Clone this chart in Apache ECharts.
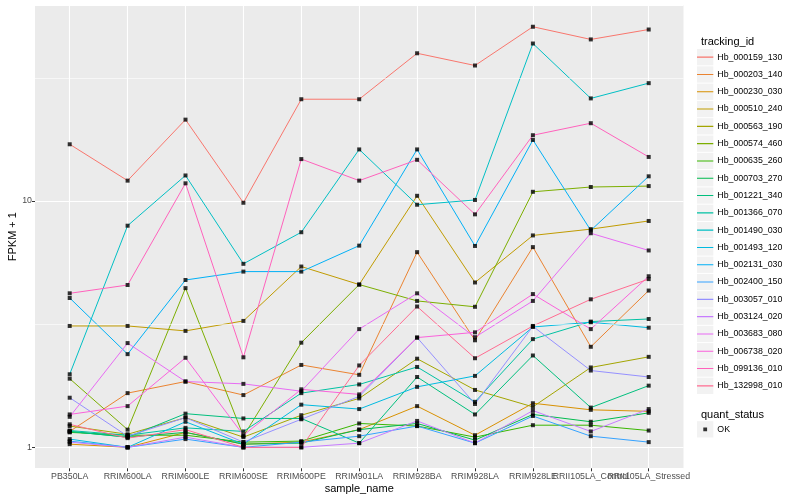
<!DOCTYPE html>
<html><head><meta charset="utf-8">
<script src="https://cdn.jsdelivr.net/npm/echarts@6/dist/echarts.min.js"></script>
<style>html,body{margin:0;padding:0;background:#fff}#c{width:800px;height:500px}</style>
</head><body><div id="c"></div>
<script>
const categories = ['PB350LA','RRIM600LA','RRIM600LE','RRIM600SE','RRIM600PE','RRIM901LA','RRIM928BA','RRIM928LA','RRIM928LE','RRII105LA_Control','RRII105LA_Stressed'];
const yTickValues = [1, 10];
const yMinorValues = [3.1623, 31.623];
const quantStatus = ['OK'];

const Hb_000159_130 = [17.0, 12.1, 21.4, 9.84, 25.9, 25.9, 39.8, 35.5, 51.0, 45.3, 49.7];
const Hb_000203_140 = [1.16, 1.66, 1.85, 1.63, 2.16, 1.97, 6.2, 2.72, 6.5, 2.56, 4.33];
const Hb_000230_030 = [1.03, 1.0, 1.15, 1.03, 1.05, 1.18, 1.47, 1.12, 1.51, 1.42, 1.40];
const Hb_000510_240 = [3.11, 3.11, 2.97, 3.26, 5.42, 4.58, 10.5, 4.67, 7.25, 7.69, 8.3];
const Hb_000563_190 = [1.22, 1.13, 1.32, 1.10, 1.35, 1.58, 2.29, 1.71, 1.46, 2.11, 2.33];
const Hb_000574_460 = [1.90, 1.18, 4.43, 1.11, 2.66, 4.58, 3.93, 3.72, 10.9, 11.4, 11.5];
const Hb_000635_260 = [1.15, 1.12, 1.12, 1.05, 1.06, 1.25, 1.22, 1.10, 1.23, 1.23, 1.17];
const Hb_000703_270 = [1.16, 1.10, 1.15, 1.03, 1.04, 1.18, 1.25, 1.07, 1.36, 1.27, 1.38];
const Hb_001221_340 = [1.16, 1.10, 1.37, 1.31, 1.31, 1.04, 1.93, 1.36, 2.36, 1.45, 1.78];
const Hb_001366_070 = [1.17, 1.12, 1.20, 1.16, 1.66, 1.80, 2.12, 1.53, 2.75, 3.24, 3.32];
const Hb_001490_030 = [1.98, 7.94, 12.7, 5.56, 7.47, 16.2, 9.66, 10.1, 43.6, 26.1, 30.1];
const Hb_001493_120 = [1.08, 1.0, 1.27, 1.03, 1.49, 1.43, 1.76, 1.95, 3.08, 3.22, 3.06];
const Hb_002131_030 = [4.04, 2.39, 4.78, 5.17, 5.17, 6.59, 16.2, 6.57, 17.7, 7.6, 12.6];
const Hb_002400_150 = [1.06, 1.0, 1.08, 1.0, 1.05, 1.11, 1.22, 1.04, 1.34, 1.11, 1.05];
const Hb_003057_010 = [1.59, 1.11, 1.32, 1.05, 1.30, 1.61, 2.79, 1.50, 3.10, 2.05, 1.93];
const Hb_003124_020 = [1.05, 1.0, 1.10, 1.0, 1.0, 1.04, 1.28, 1.04, 1.41, 1.16, 1.43];
const Hb_003683_080 = [1.33, 2.65, 1.85, 1.81, 1.69, 3.02, 4.22, 2.80, 3.93, 7.4, 6.3];
const Hb_006738_020 = [1.36, 1.47, 2.31, 1.12, 1.72, 1.64, 2.79, 2.93, 4.19, 3.02, 4.95];
const Hb_099136_010 = [4.22, 4.56, 11.8, 2.32, 14.8, 12.1, 14.7, 8.83, 18.5, 20.7, 15.1];
const Hb_132998_010 = [1.24, 1.09, 1.18, 1.0, 1.0, 2.15, 3.73, 2.30, 3.11, 3.99, 4.82];

const trackingIds = ['Hb_000159_130','Hb_000203_140','Hb_000230_030','Hb_000510_240','Hb_000563_190','Hb_000574_460','Hb_000635_260','Hb_000703_270','Hb_001221_340','Hb_001366_070','Hb_001490_030','Hb_001493_120','Hb_002131_030','Hb_002400_150','Hb_003057_010','Hb_003124_020','Hb_003683_080','Hb_006738_020','Hb_099136_010','Hb_132998_010'];
const seriesValues = [Hb_000159_130,Hb_000203_140,Hb_000230_030,Hb_000510_240,Hb_000563_190,Hb_000574_460,Hb_000635_260,Hb_000703_270,Hb_001221_340,Hb_001366_070,Hb_001490_030,Hb_001493_120,Hb_002131_030,Hb_002400_150,Hb_003057_010,Hb_003124_020,Hb_003683_080,Hb_006738_020,Hb_099136_010,Hb_132998_010];

const palette = ['#F8766D','#EA8331','#D89000','#C09B00','#A3A500','#7CAE00','#39B600','#00BB4E','#00BF7D','#00C1A3','#00BFC4','#00BAE0','#00B0F6','#35A2FF','#9590FF','#C77CFF','#E76BF3','#FA62DB','#FF62BC','#FF6C91'];

const FONT = 'Liberation Sans, Arial, Helvetica, sans-serif';
const yMin = 0.822, yMax = 62.5;

const chart = echarts.init(document.getElementById('c'), null, {renderer: 'canvas'});

const lineSeries = trackingIds.map((id, i) => ({
  name: id, type: 'line', xAxisIndex: 1, yAxisIndex: 1,
  data: seriesValues[i], symbol: 'none', z: 3,
  lineStyle: {width: 1, color: palette[i]}, itemStyle: {color: palette[i]},
  emphasis: {disabled: true}, animation: false
}));

const pointData = [];
seriesValues.forEach(vals => vals.forEach((v, j) => pointData.push([j, v])));

const KEY_PITCH = 17.3;
const keyRects = [];
for (let i = 0; i < trackingIds.length; i++) {
  keyRects.push({type: 'rect', shape: {x: 697, y: 49 + i * KEY_PITCH, width: 16.3, height: 16.3}, style: {fill: '#F2F2F2'}, z: -1});
}
keyRects.push({type: 'rect', shape: {x: 697, y: 421.2, width: 16.3, height: 16.3}, style: {fill: '#F2F2F2'}, z: -1});

const lineIcon = 'path://M0,0h.01v.01h-.01zM0,7.6h16.3v1.1h-16.3zM16.29,16.29h.01v.01h-.01z';
const pointIcon = 'path://M0,0h.01v.01h-.01zM6.3,6.3h3.8v3.8h-3.8zM16.29,16.29h.01v.01h-.01z';

chart.setOption({
  animation: false,
  backgroundColor: '#FFFFFF',
  textStyle: {fontFamily: FONT},
  title: [
    {text: 'tracking_id', left: 696, top: 31, textStyle: {fontSize: 11, fontWeight: 'normal', color: '#000', fontFamily: FONT}},
    {text: 'quant_status', left: 696, top: 404, textStyle: {fontSize: 11, fontWeight: 'normal', color: '#000', fontFamily: FONT}}
  ],
  graphic: keyRects,
  legend: [
    {
      data: trackingIds, orient: 'vertical', left: 697, top: 49,
      icon: lineIcon,
      itemWidth: 16.3, itemHeight: 16.3, itemGap: 1, padding: 0,
      textStyle: {fontSize: 8.8, color: '#000', fontFamily: FONT, padding: [0, 0, 0, -1]},
      selectedMode: false
    },
    {
      data: quantStatus, orient: 'vertical', left: 697, top: 421.2,
      icon: pointIcon,
      itemWidth: 16.3, itemHeight: 16.3, padding: 0,
      textStyle: {fontSize: 8.8, color: '#000', fontFamily: FONT, padding: [0, 0, 0, -1]},
      selectedMode: false
    }
  ],
  grid: [
    {left: 35, right: 116.5, top: 5, bottom: 31.7, show: true, backgroundColor: '#EBEBEB', borderWidth: 0, containLabel: false, outerBoundsMode: 'none'},
    {left: 69.7, right: 151.3, top: 5, bottom: 31.7, show: false, containLabel: false, outerBoundsMode: 'none'}
  ],
  xAxis: [
    {type: 'value', gridIndex: 0, min: 0, max: 1, show: false},
    {
      type: 'category', gridIndex: 1, data: categories, boundaryGap: false,
      axisLine: {show: false},
      axisTick: {show: true, length: 3, lineStyle: {color: '#333333', width: 1}},
      axisLabel: {interval: 0, fontSize: 8.8, color: '#4D4D4D', margin: 4, fontFamily: FONT},
      splitLine: {show: true, lineStyle: {color: '#FFFFFF', width: 1.1}},
      name: 'sample_name', nameLocation: 'middle', nameGap: 15, nameMoveOverlap: false,
      nameTextStyle: {fontSize: 11, color: '#000', fontFamily: FONT}
    }
  ],
  yAxis: [
    {
      type: 'log', logBase: 10, gridIndex: 0, min: yMin, max: yMax,
      axisLine: {show: false},
      axisTick: {show: true, length: 3, lineStyle: {color: '#333333', width: 1}},
      axisLabel: {
        showMinLabel: false, showMaxLabel: false, fontSize: 8.8, color: '#4D4D4D', margin: 3, fontFamily: FONT,
        formatter: v => (yTickValues.some(t => Math.abs(t - v) < 1e-6) ? String(Math.round(v)) : '')
      },
      splitLine: {show: true, lineStyle: {color: '#FFFFFF', width: 1.1}},
      name: 'FPKM + 1', nameLocation: 'middle', nameGap: 17, nameRotate: 90, nameMoveOverlap: false,
      nameTextStyle: {fontSize: 11, color: '#000', fontFamily: FONT}
    },
    {type: 'log', logBase: 10, gridIndex: 1, min: yMin, max: yMax, show: false, splitLine: {show: false}}
  ],
  series: [
    {
      type: 'line', xAxisIndex: 0, yAxisIndex: 0, data: [], silent: true, z: 1,
      markLine: {
        silent: true, symbol: 'none', animation: false, label: {show: false},
        lineStyle: {color: '#FFFFFF', width: 0.6, type: 'solid'},
        emphasis: {disabled: true},
        data: yMinorValues.map(v => ({yAxis: v}))
      }
    },
    ...lineSeries,
    {
      name: 'OK', type: 'scatter', xAxisIndex: 1, yAxisIndex: 1, data: pointData,
      symbol: 'rect', symbolSize: 4, itemStyle: {color: '#000000'}, z: 5,
      emphasis: {disabled: true}, animation: false
    }
  ]
});
</script>
</body></html>
